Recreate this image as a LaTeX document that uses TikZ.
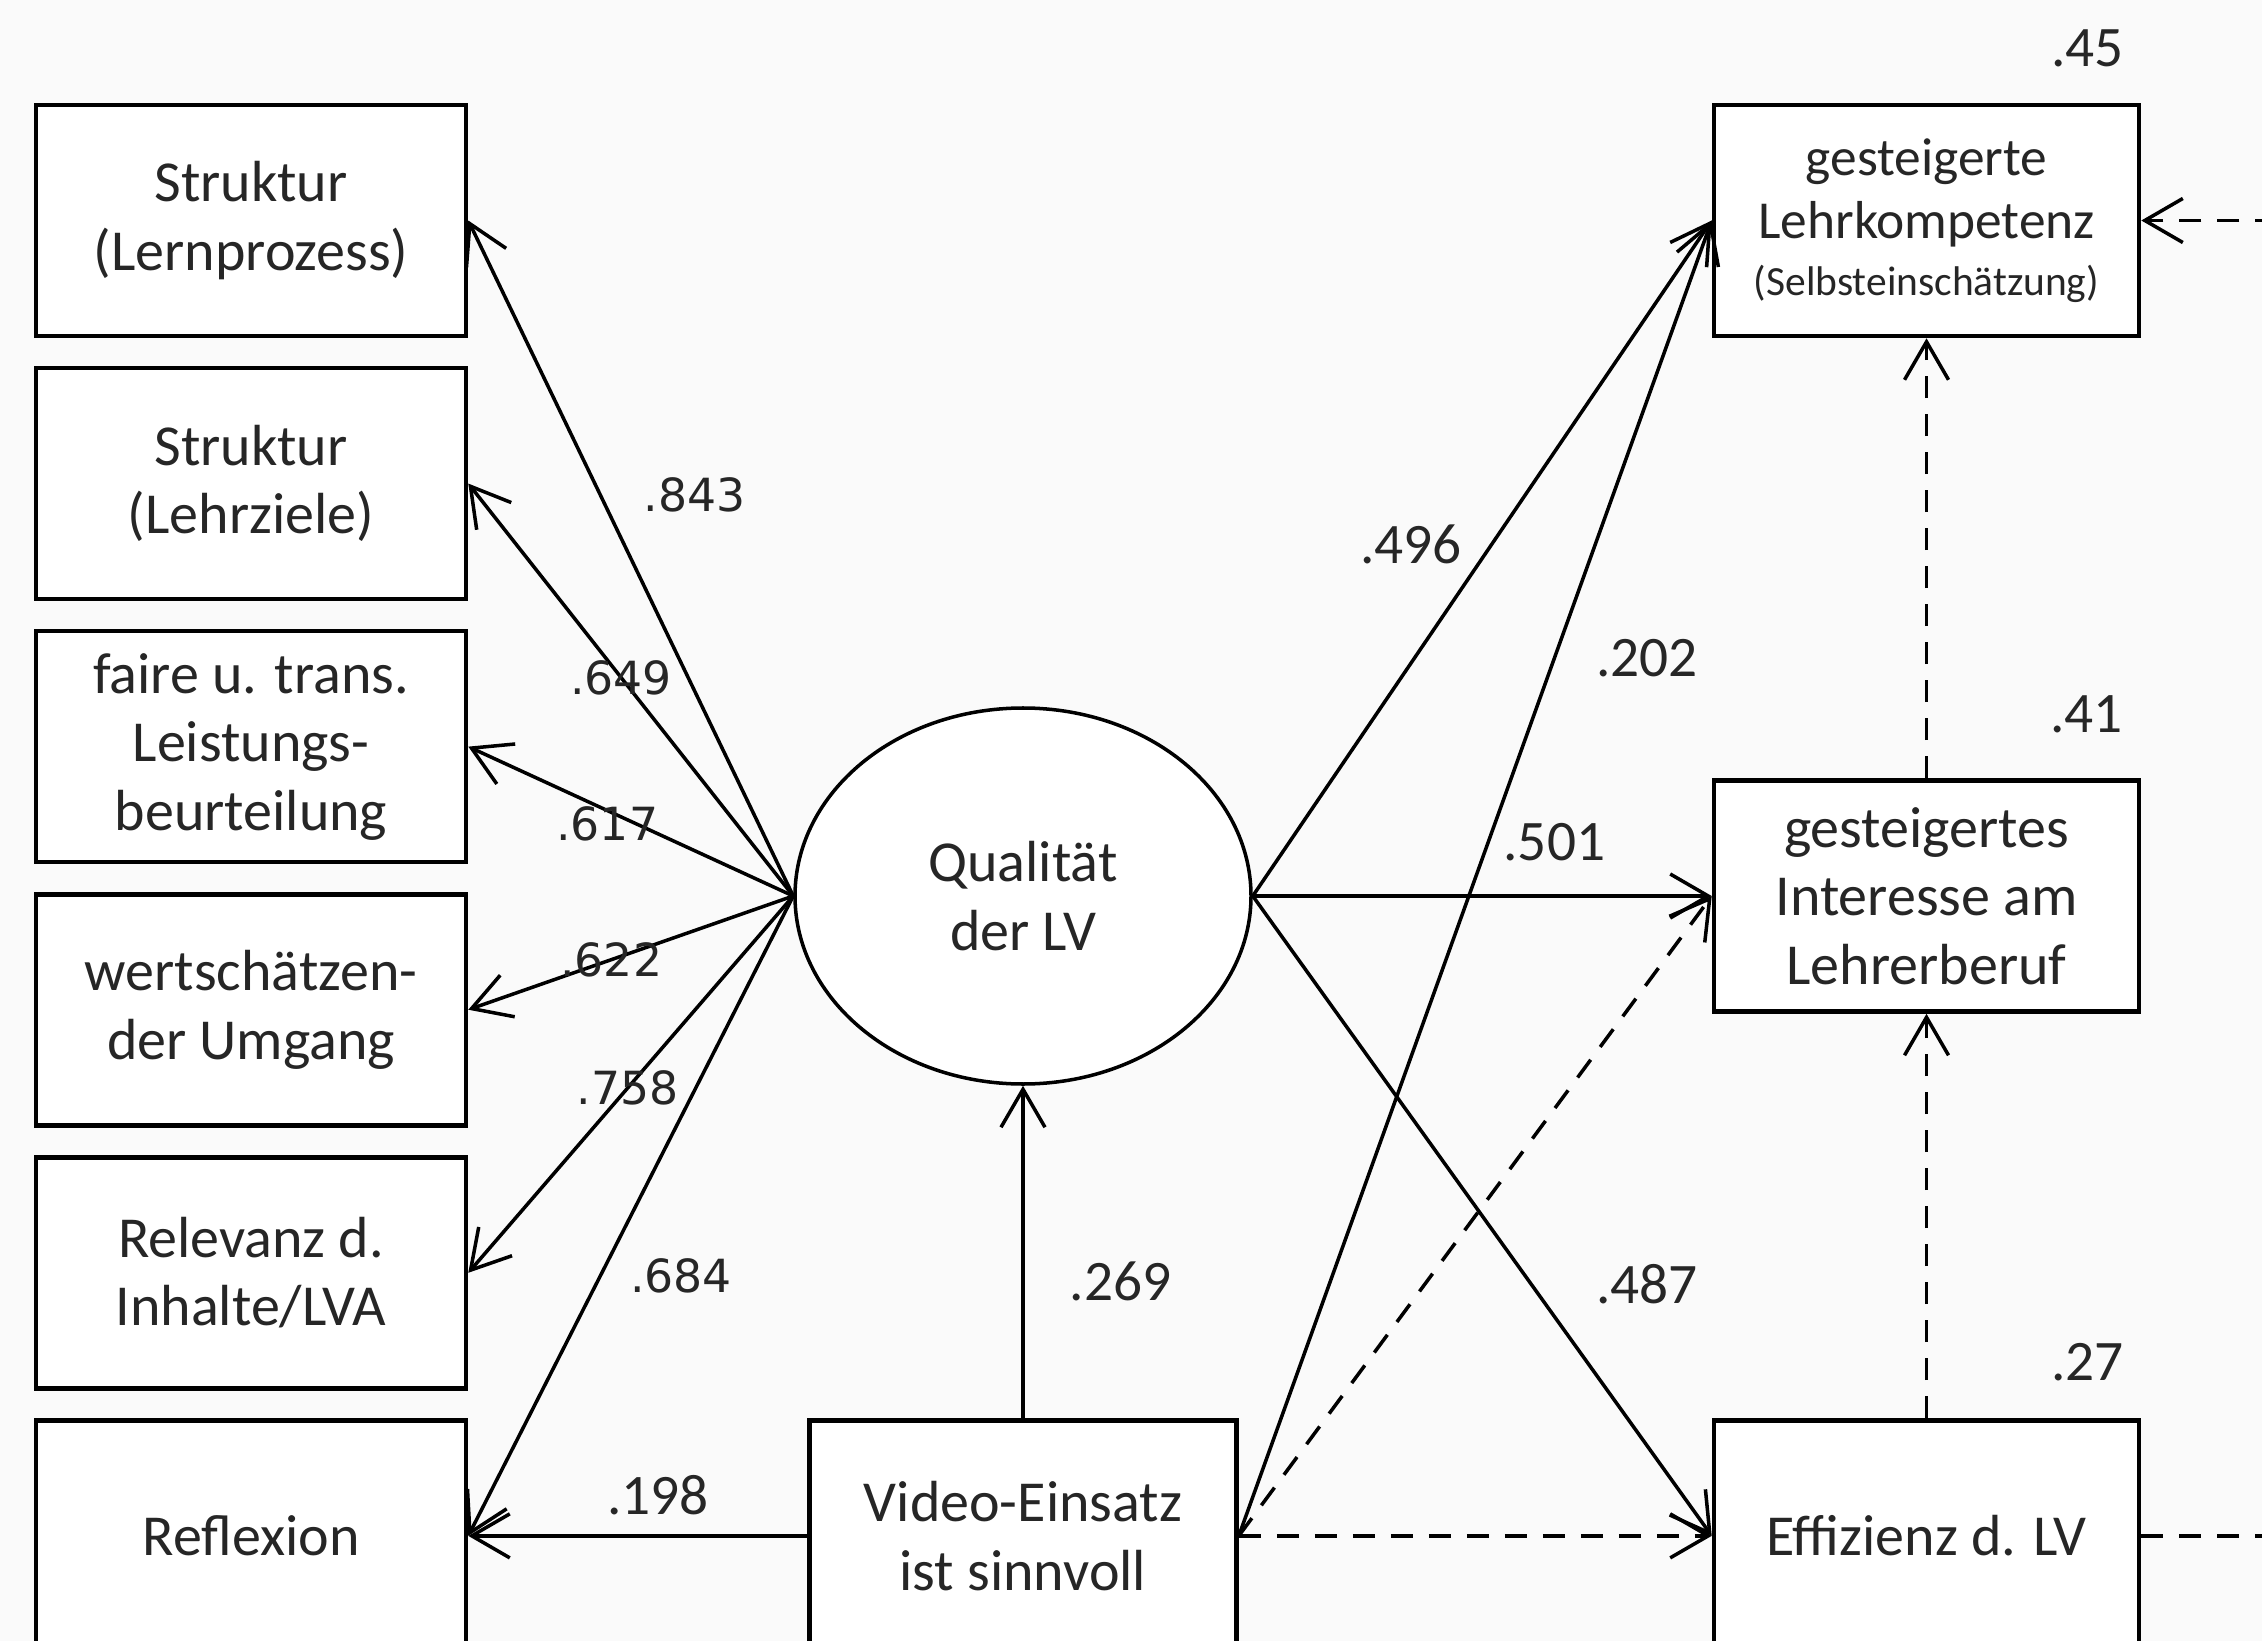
\documentclass[tikz,border=0pt]{standalone}
\usepackage{fontspec}
\setmainfont{Carlito}
\newfontfamily\dvsans{DejaVu Sans}
\usetikzlibrary{arrows.meta,shapes.geometric,positioning}

\tikzset{
  box/.style={draw, line width=1.3pt, fill=white, minimum width=43mm, minimum height=23.1mm,
    inner sep=1mm, align=center, font=\fontsize{16.5}{19.5}\selectfont, text=black!85},
  err/.style={dash pattern=on 2.2mm off 1.6mm},
  load/.style={font=\dvsans\fontsize{13}{15}\selectfont},
}

\begin{document}
\begin{tikzpicture}[x=1mm, y=1mm, ->, >={Straight Barb[length=3.8mm,width=4.4mm]}, line width=1pt, node distance=2.75mm]
\useasboundingbox (0,0) rectangle (226.2,-164.1);
\clip (0,0) rectangle (226.2,-164.1);
\fill[black!2] (0,0) rectangle (226.2,-164.1);

% indicators
\node[box] (s1) at (25.1,-22.05) {Struktur\\(Lernprozess)};
\node[box] (s2) [below=of s1] {Struktur\\(Lehrziele)};
\node[box] (s3) [below=of s2] {faire u. trans.\\Leistungs-\\beurteilung};
\node[box] (s4) [below=of s3] {wertschätzen-\\der Umgang};
\node[box] (s5) [below=of s4] {Relevanz d.\\Inhalte/LVA};
\node[box] (s6) [below=of s5] {Reflexion};

% factor and predictor
\node[box, ellipse, line width=1pt, minimum width=45.6mm, minimum height=37.6mm] (q) at (102.3,-89.6) {Qualität\\der LV};
\node[box, minimum width=42.7mm] (v) at (q |- s6) {Video-Einsatz\\ist sinnvoll};

% outcomes
\node[box, minimum width=42.5mm, font=\fontsize{15.2}{18}\selectfont] (o1) at (192.65,-22.05) {gesteigerte\\Lehrkompetenz\\[-0.6mm]{\fontsize{11.8}{14}\selectfont (Selbsteinschätzung)}};
\node[box, minimum width=42.5mm] (o2) at (o1 |- q) {gesteigertes\\Interesse am\\Lehrerberuf};
\node[box, minimum width=42.5mm] (o3) at (o1 |- s6) {Effizienz d. LV};
\coordinate (e1) at ([xshift=25mm]o1.east);
\coordinate (e3) at ([xshift=25mm]o3.east);

\tikzstyle{every node}=[inner sep=0pt, font=\fontsize{16.3}{19}\selectfont, text=black!85]
\path
(q.west) edge node[load, pos=.594, right=4.2mm] {.843} (s1.east)
(q.west) edge node[load, pos=.53] {.649} (s2.east)
(q.west) edge node[load, pos=.48, xshift=-3mm] {.617} (s3.east)
(q.west) edge node[load, pos=.56] {.622} (s4.east)
(q.west) edge node[load, pos=.51] {.758} (s5.east)
(q.west) edge node[load, pos=.593, right=2.8mm] {.684} (s6.east)

(v.west) edge node[pos=.44, above=1.9mm] {.198} (s6.east)
(v.north) edge node[pos=.41, right=4.5mm] {.269} (q.south)

(q.east) edge node[pos=.52, left=2.8mm] {.496} (o1.west)
(v.east) edge node[pos=.667, right=4mm] {.202} (o1.west)
(q.east) edge node[pos=.657, above=3.3mm] {.501} (o2.west)
(q.east) edge node[pos=.607, right=6.3mm] {.487} (o3.west)

(v.east) edge[err] (o2.west)
(v.east) edge[err] (o3.west)
(o3.north) edge[err] (o2.south)
(o2.north) edge[err] (o1.south)
(e1) edge[err] (o1.east)
(o3.east) edge[err, -] (e3);

% explained variance
\node (r1) [above left=3.4mm and 1.6mm of o1.north east] {.45};
\node (r2) [above left=4.4mm and 1.7mm of o2.north east] {.41};
\node (r3) [above left=3.5mm and 1.6mm of o3.north east] {.27};
\end{tikzpicture}
\end{document}
